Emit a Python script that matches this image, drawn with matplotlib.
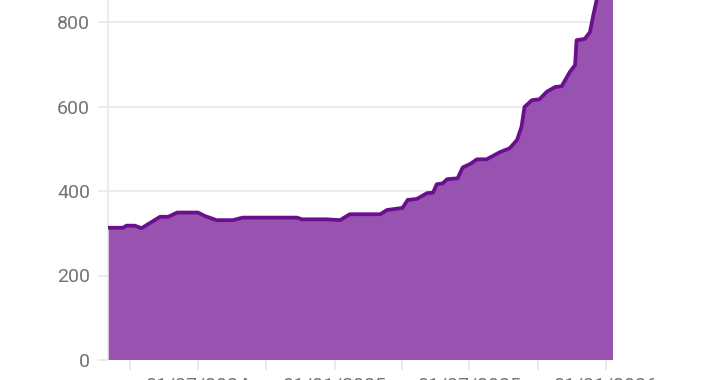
import pandas as pd
import matplotlib
matplotlib.use("Agg")
import matplotlib.pyplot as plt
import matplotlib.dates as mdates

# values (plateau ends / turning points)
dates = [
    "2024-03-02", "2024-03-22", "2024-03-27", "2024-04-07", "2024-04-16",
    "2024-04-30", "2024-05-11", "2024-05-22", "2024-06-03", "2024-07-01",
    "2024-07-10", "2024-07-26", "2024-08-17", "2024-08-30", "2024-11-11",
    "2024-11-18", "2024-12-21", "2025-01-08", "2025-01-21", "2025-03-03",
    "2025-03-12", "2025-04-02", "2025-04-09", "2025-04-21", "2025-05-05",
    "2025-05-13", "2025-05-18", "2025-05-26", "2025-06-01", "2025-06-15",
    "2025-06-22", "2025-07-02", "2025-07-11", "2025-07-24", "2025-08-11",
    "2025-08-24", "2025-09-03", "2025-09-09", "2025-09-13", "2025-09-23",
    "2025-10-03", "2025-10-13", "2025-10-24", "2025-11-02", "2025-11-13",
    "2025-11-20", "2025-11-22", "2025-12-03", "2025-12-10", "2025-12-14",
    "2025-12-19", "2026-01-10",
]
values = [
    313, 313, 318, 318, 312,
    327, 339, 339, 349, 349,
    341, 331, 331, 337, 337,
    333, 333, 331, 345, 345,
    355, 360, 379, 381, 395,
    396, 416, 418, 428, 430,
    456, 464, 475, 475, 492,
    501, 521, 552, 599, 615,
    617, 635, 646, 648, 682,
    698, 757, 760, 776, 812,
    852, 1000,
]
ytick_vals = [0, 200, 400, 600, 800]

df = pd.DataFrame({"date": pd.to_datetime(dates), "value": values})

fill_color = "#9852b0"
line_color = "#6a0f8e"
text_color = "#737373"
grid_color = "#e8e8e8"

plt.rcParams["font.family"] = ["Roboto", "DejaVu Sans"]

fig = plt.figure(figsize=(7.2, 3.8), dpi=100)
# axes top runs off the figure, like the cropped reference
ax = fig.add_axes([108 / 720, 20 / 380, 505 / 720, 422.5 / 380])

ax.fill_between(df["date"], df["value"], 0, color=fill_color, linewidth=0, zorder=2)
ax.plot(df["date"], df["value"], color=line_color, linewidth=2.7,
        solid_joinstyle="round", solid_capstyle="round", zorder=3)

ax.set_xlim(df["date"].iloc[0], df["date"].iloc[-1])
ax.set_ylim(0, 1000)

ax.set_yticks(ytick_vals)
ax.yaxis.grid(True, color=grid_color, linewidth=1.2, zorder=0)
ax.xaxis.grid(False)

ax.xaxis.set_major_locator(mdates.MonthLocator(bymonth=[1, 7]))
ax.xaxis.set_minor_locator(mdates.MonthLocator(bymonth=[4, 10]))
ax.xaxis.set_major_formatter(mdates.DateFormatter("%d/%m/%Y"))

for side in ["top", "right", "bottom"]:
    ax.spines[side].set_visible(False)
ax.spines["left"].set_color(grid_color)
ax.spines["left"].set_linewidth(1.2)

ax.tick_params(axis="y", length=7, width=1.2, color=grid_color, labelsize=14,
               labelcolor=text_color, pad=6)
ax.tick_params(axis="x", which="both", length=7, width=1.2, color=grid_color,
               labelsize=14, labelcolor=text_color, pad=5)

fig.savefig("out.png", dpi=100)
